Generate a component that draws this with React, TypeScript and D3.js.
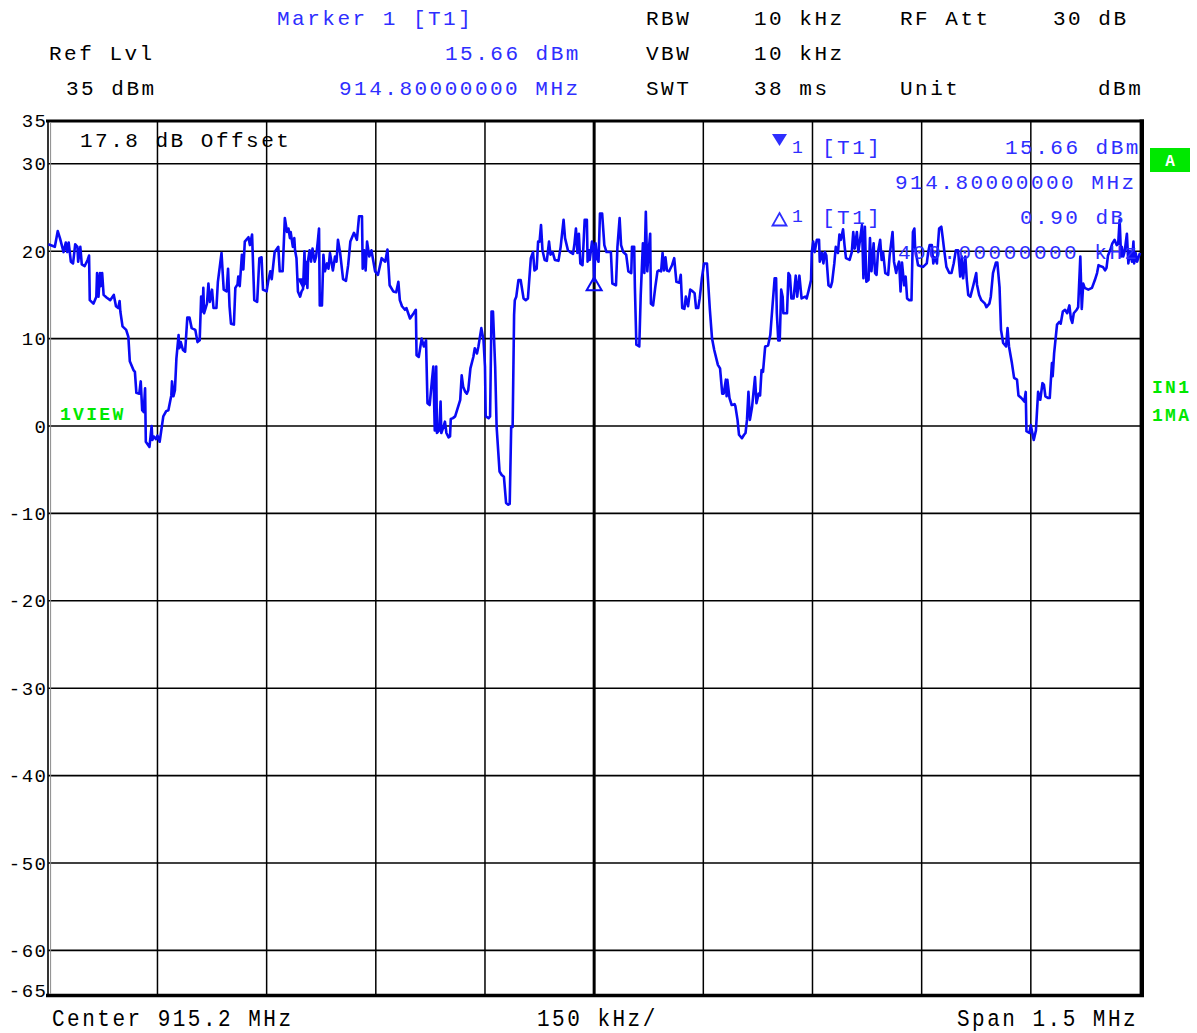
import React from "react";
import * as d3 from "d3";

// ---------- data ----------
const startMHz = 914.45;
const spanKHz = 1500;
const divKHz = 150;
const refLevel = 35;
const bottomLevel = -65;
const levelTicks = [35, 30, 20, 10, 0, -10, -20, -30, -40, -50, -60, -65];
const gridLevels = [30, 20, 10, 0, -10, -20, -30, -40, -50, -60];
const gridOffsetsKHz = [150, 300, 450, 600, 750, 900, 1050, 1200, 1350];

const settingNames = ["RBW", "VBW", "SWT"];
const settingValues = ["10 kHz", "10 kHz", "38 ms"];
const rfAtt = "30 dB";
const unitLabel = "dBm";
const offsetDb = 17.8;

const marker1 = { offsetKHz: 350, level: 15.66 };
const delta1 = { offsetKHz: 750, deltaDb: 0.9, deltaKHz: 400 };

// [offset from start frequency in kHz, level in dBm]
const trace: [number, number][] = [
  [0, 20.8], [9, 20.5], [13, 22.3], [16, 21.5], [21, 19.9], [24, 21.0], [26, 19.9], [28, 21.0],
  [31, 18.8], [34, 18.6], [37, 20.8], [40, 20.5], [41, 18.8], [44, 20.5], [46, 18.5], [50, 18.3],
  [54, 19.0], [56, 19.5], [57, 14.4], [62, 14.0], [66, 14.8], [67, 17.5], [69, 14.8], [71, 17.5],
  [72, 16.0], [74, 17.5], [76, 15.0], [80, 14.7], [85, 14.4], [90, 15.0], [93, 13.7], [96, 13.5],
  [98, 14.3], [99, 13.1], [102, 11.4], [107, 11.0], [110, 10.2], [112, 7.4], [117, 6.4], [119, 6.2],
  [121, 3.8], [125, 3.7], [127, 5.1], [129, 1.8], [131, 1.6], [133, 4.3], [134, -1.8], [139, -2.4],
  [142, 0.0], [143, -1.6], [145, -1.2], [148, -1.5], [150, -1.1], [153, -1.8], [158, 1.1], [162, 1.7],
  [165, 1.8], [169, 3.5], [170, 5.1], [172, 3.4], [174, 4.1], [176, 7.7], [179, 10.4], [180, 8.9],
  [182, 9.6], [185, 8.7], [188, 8.5], [191, 12.4], [194, 12.4], [197, 11.2], [202, 11.0], [205, 9.6],
  [208, 9.8], [210, 14.8], [212, 13.1], [213, 15.8], [214, 12.9], [218, 14.0], [220, 16.3], [222, 14.2],
  [225, 15.6], [227, 13.5], [231, 13.5], [233, 16.5], [238, 19.8], [241, 15.6], [245, 15.4], [247, 18.0],
  [249, 13.7], [251, 11.7], [255, 11.6], [257, 15.8], [260, 16.2], [261, 17.1], [263, 16.0], [266, 19.6],
  [268, 17.9], [270, 21.1], [275, 21.6], [277, 20.7], [280, 21.9], [283, 14.4], [287, 14.2], [290, 19.2],
  [293, 19.3], [295, 15.6], [300, 15.4], [302, 16.5], [305, 17.7], [307, 16.8], [311, 19.9], [316, 20.5],
  [318, 17.7], [322, 17.7], [325, 23.8], [328, 22.2], [330, 22.6], [332, 21.5], [333, 22.2], [336, 20.5],
  [338, 21.5], [339, 20.1], [341, 19.2], [343, 15.4], [346, 14.8], [348, 15.4], [350, 15.66], [352, 20.0],
  [353, 16.3], [354, 18.8], [356, 15.8], [357, 19.0], [359, 20.1], [361, 18.8], [363, 20.3], [366, 18.8],
  [368, 19.4], [370, 20.9], [372, 22.6], [373, 13.8], [376, 13.8], [378, 19.6], [380, 17.7], [383, 18.6],
  [385, 18.0], [387, 19.8], [391, 17.8], [394, 19.4], [396, 18.8], [398, 21.3], [401, 19.8], [405, 16.8],
  [409, 16.6], [412, 18.4], [415, 21.1], [420, 22.1], [424, 21.3], [427, 24.0], [431, 24.0], [432, 18.0],
  [434, 20.1], [436, 17.8], [438, 21.1], [441, 19.4], [444, 20.1], [449, 17.7], [453, 17.3], [458, 19.2],
  [463, 18.8], [466, 20.2], [469, 16.1], [474, 15.4], [478, 15.3], [481, 16.5], [483, 14.4], [486, 13.7],
  [490, 13.3], [492, 13.5], [497, 12.3], [502, 12.9], [505, 13.3], [506, 8.1], [509, 7.9], [513, 10.0],
  [516, 9.1], [519, 9.8], [521, 2.6], [524, 2.4], [527, 5.1], [529, 6.8], [531, -0.5], [533, 6.8],
  [534, -0.8], [537, -0.5], [539, 2.8], [540, -0.8], [543, -0.1], [545, 0.5], [547, -0.8], [550, -1.3],
  [552, -1.2], [553, 0.8], [556, 0.9], [559, 1.1], [566, 3.0], [568, 5.8], [570, 4.5], [573, 3.9],
  [575, 3.7], [577, 4.1], [580, 6.6], [584, 7.9], [586, 8.9], [589, 8.3], [591, 9.1], [595, 11.2],
  [598, 9.8], [600, 6.8], [601, 1.1], [605, 0.9], [607, 1.1], [609, 13.1], [611, 13.1], [614, 6.8],
  [616, -0.1], [620, -5.2], [623, -5.6], [626, -5.8], [629, -8.8], [632, -9.0], [634, -8.9], [636, -0.1],
  [638, -0.1], [640, 12.7], [641, 14.4], [643, 14.8], [646, 16.7], [649, 16.7], [653, 14.6], [656, 14.4],
  [659, 14.6], [663, 19.2], [666, 19.9], [668, 17.8], [671, 18.0], [673, 21.1], [675, 21.1], [677, 23.0],
  [679, 20.1], [682, 19.0], [685, 18.9], [688, 21.1], [690, 19.6], [693, 19.9], [696, 19.0], [701, 18.9],
  [704, 20.5], [708, 23.6], [710, 21.5], [714, 20.1], [717, 19.9], [721, 19.7], [723, 20.9], [725, 22.6],
  [727, 19.8], [729, 22.0], [731, 18.6], [734, 18.4], [737, 23.6], [740, 23.6], [741, 18.8], [743, 20.1],
  [744, 19.0], [747, 21.1], [749, 20.3], [750, 16.56], [752, 20.9], [754, 19.2], [756, 18.8], [758, 24.3],
  [761, 24.3], [764, 20.7], [767, 19.9], [773, 19.9], [775, 16.3], [780, 16.1], [782, 20.5], [785, 23.8],
  [787, 20.7], [790, 19.9], [794, 19.6], [797, 17.7], [801, 17.5], [802, 20.5], [805, 20.5], [806, 15.8],
  [808, 9.3], [812, 9.1], [814, 15.0], [817, 20.9], [819, 17.5], [821, 24.5], [823, 17.7], [825, 20.1],
  [827, 22.0], [828, 14.0], [831, 13.8], [834, 15.9], [837, 17.7], [839, 17.8], [842, 17.7], [844, 19.8],
  [846, 17.8], [848, 19.3], [850, 17.8], [853, 17.7], [857, 18.4], [860, 19.2], [863, 16.5], [867, 16.4],
  [869, 17.3], [871, 13.5], [874, 13.4], [876, 14.8], [879, 13.7], [882, 15.6], [884, 15.5], [888, 15.2],
  [890, 13.5], [893, 13.5], [895, 14.6], [898, 16.9], [901, 18.6], [905, 18.6], [909, 13.3], [912, 10.0],
  [915, 8.7], [920, 7.0], [923, 6.6], [926, 3.7], [928, 3.7], [931, 5.3], [932, 3.4], [933, 5.3],
  [936, 3.2], [939, 2.4], [943, 2.5], [944, 2.3], [947, 0.7], [949, -1.0], [953, -1.4], [956, -1.0],
  [958, -0.8], [960, 0.7], [962, 3.9], [964, 0.7], [967, 2.2], [971, 5.6], [973, 2.6], [976, 3.7],
  [978, 3.5], [980, 6.4], [982, 6.2], [985, 9.1], [989, 9.2], [992, 10.4], [995, 13.7], [998, 16.9],
  [1000, 16.9], [1001, 12.9], [1003, 9.8], [1005, 9.8], [1007, 15.6], [1009, 14.8], [1010, 12.9], [1015, 12.9],
  [1017, 17.5], [1019, 17.2], [1021, 14.6], [1024, 14.6], [1027, 17.2], [1029, 14.8], [1032, 17.2], [1035, 14.6],
  [1040, 14.8], [1042, 14.6], [1045, 15.6], [1048, 16.7], [1049, 19.9], [1051, 21.1], [1053, 19.9], [1056, 21.3],
  [1059, 21.3], [1060, 18.8], [1063, 19.8], [1065, 18.6], [1067, 19.9], [1069, 19.5], [1072, 16.1], [1075, 15.9],
  [1077, 16.5], [1080, 18.6], [1082, 20.5], [1085, 19.8], [1087, 21.9], [1089, 21.3], [1092, 22.5], [1094, 20.7],
  [1096, 19.2], [1101, 19.0], [1104, 19.9], [1106, 22.2], [1108, 20.3], [1111, 22.2], [1113, 19.9], [1115, 21.1],
  [1118, 23.0], [1120, 16.9], [1122, 22.8], [1124, 16.5], [1127, 16.7], [1129, 21.5], [1131, 17.7], [1134, 20.9],
  [1136, 17.5], [1138, 17.3], [1140, 19.9], [1143, 21.3], [1145, 19.0], [1147, 19.9], [1150, 17.5], [1152, 17.4],
  [1154, 17.3], [1156, 19.5], [1160, 22.2], [1162, 18.8], [1165, 17.5], [1166, 18.0], [1169, 18.8], [1171, 15.4],
  [1173, 18.7], [1176, 16.1], [1178, 17.1], [1180, 14.6], [1183, 14.4], [1186, 14.4], [1188, 22.2], [1190, 22.6],
  [1191, 20.5], [1193, 19.4], [1195, 18.4], [1198, 18.3], [1202, 18.2], [1207, 18.6], [1209, 19.9], [1211, 20.7],
  [1214, 20.7], [1216, 18.6], [1218, 19.3], [1221, 18.6], [1222, 20.3], [1224, 22.6], [1227, 22.8], [1229, 21.5],
  [1231, 20.1], [1234, 18.2], [1238, 17.5], [1241, 17.5], [1244, 18.6], [1247, 20.1], [1250, 20.1], [1253, 17.1],
  [1255, 19.4], [1257, 16.9], [1260, 19.4], [1262, 16.7], [1264, 15.0], [1267, 14.8], [1271, 16.1], [1275, 17.5],
  [1276, 16.2], [1279, 15.0], [1282, 14.4], [1287, 14.0], [1289, 13.6], [1293, 14.0], [1295, 14.8], [1298, 17.5],
  [1302, 18.7], [1304, 18.7], [1307, 15.9], [1309, 11.0], [1312, 9.5], [1316, 9.1], [1318, 11.2], [1320, 9.1],
  [1324, 7.2], [1327, 5.5], [1331, 5.3], [1333, 3.5], [1337, 3.2], [1341, 2.8], [1343, 3.9], [1344, -0.6],
  [1348, -0.8], [1350, 0.1], [1353, -1.2], [1354, -1.6], [1357, -0.5], [1360, 3.9], [1363, 3.0], [1366, 4.9],
  [1368, 4.7], [1370, 3.4], [1374, 3.2], [1376, 3.2], [1379, 7.2], [1380, 5.7], [1382, 8.3], [1386, 11.6],
  [1389, 11.9], [1391, 11.7], [1394, 13.1], [1397, 13.3], [1400, 12.9], [1403, 13.8], [1405, 12.3], [1407, 11.8],
  [1409, 12.9], [1413, 13.3], [1415, 13.6], [1418, 19.4], [1420, 13.4], [1422, 16.3], [1424, 15.8], [1429, 15.6],
  [1434, 15.8], [1438, 16.7], [1441, 17.5], [1443, 18.4], [1445, 18.3], [1449, 18.2], [1452, 17.8], [1454, 18.1],
  [1456, 19.5], [1459, 20.1], [1462, 20.9], [1465, 21.3], [1468, 20.7], [1470, 20.8], [1472, 23.6], [1474, 19.4],
  [1475, 20.5], [1477, 19.4], [1479, 20.0], [1482, 22.0], [1484, 18.6], [1486, 20.0], [1489, 18.8], [1491, 21.1],
  [1492, 18.6], [1494, 19.8], [1496, 18.8], [1500, 19.8],
];

// ---------- styling ----------
const MONO = '"Liberation Mono", "Courier New", monospace';
const BLUE_TEXT = "#2e2eff";
const TRACE = "#0a0af5";
const GREEN = "#00e800";

const X0 = 48.3;
const X1 = 1140;
const Y_TOP = 120.1;
const Y_BOT = 994.1;

type TxtProps = {
  x: number;
  y: number;
  children: React.ReactNode;
  fill?: string;
  size?: number;
  ls?: number;
  anchor?: "start" | "middle" | "end";
  weight?: string | number;
};

function Txt({ x, y, children, fill = "#000", size = 21, ls = 2.5, anchor = "start", weight = "normal" }: TxtProps) {
  return (
    <text
      x={x}
      y={y}
      fill={fill}
      fontSize={size}
      fontFamily={MONO}
      letterSpacing={ls}
      textAnchor={anchor}
      fontWeight={weight}
    >
      {children}
    </text>
  );
}

export default function App() {
  const x = d3.scaleLinear().domain([0, spanKHz]).range([X0, X1]);
  const y = d3.scaleLinear().domain([bottomLevel, refLevel]).range([Y_BOT, Y_TOP]);
  const line = d3
    .line<[number, number]>()
    .x((d) => x(d[0]))
    .y((d) => y(d[1]));

  const centerMHz = startMHz + spanKHz / 2000;
  const markerMHz = startMHz + marker1.offsetKHz / 1000;

  const mx = x(marker1.offsetKHz);
  const my = y(marker1.level);
  const dx = x(delta1.offsetKHz);
  const dy = y(marker1.level + delta1.deltaDb);

  const centerKHz = spanKHz / 2;

  return (
    <svg
      width={1197}
      height={1033}
      style={{ position: "absolute", left: 0, top: 0, background: "#fff" }}
    >
      <rect x={0} y={0} width={1197} height={1033} fill="#fff" />

      {/* header */}
      <Txt x={277} y={25} fill={BLUE_TEXT}>Marker 1 [T1]</Txt>
      <Txt x={49} y={60}>Ref Lvl</Txt>
      <Txt x={445} y={60} fill={BLUE_TEXT}>{`${marker1.level.toFixed(2)} dBm`}</Txt>
      <Txt x={66} y={95}>{`${refLevel} dBm`}</Txt>
      <Txt x={339} y={95} fill={BLUE_TEXT}>{`${markerMHz.toFixed(8)} MHz`}</Txt>
      {settingNames.map((s, i) => (
        <Txt key={s} x={646} y={25 + i * 35}>{s}</Txt>
      ))}
      {settingValues.map((s, i) => (
        <Txt key={i} x={754} y={25 + i * 35}>{s}</Txt>
      ))}
      <Txt x={900} y={25}>RF Att</Txt>
      <Txt x={1053} y={25}>{rfAtt}</Txt>
      <Txt x={900} y={95}>Unit</Txt>
      <Txt x={1098} y={95}>{unitLabel}</Txt>

      {/* grid */}
      {gridLevels.map((l) => (
        <line key={"h" + l} x1={X0} x2={X1} y1={y(l)} y2={y(l)} stroke="#000" strokeWidth={1.6} />
      ))}
      {gridOffsetsKHz.map((k) => (
        <line
          key={"v" + k}
          x1={x(k)}
          x2={x(k)}
          y1={Y_TOP}
          y2={Y_BOT}
          stroke="#000"
          strokeWidth={k === centerKHz ? 3 : 1.5}
        />
      ))}

      {/* frame */}
      <line x1={46} x2={1144} y1={121} y2={121} stroke="#000" strokeWidth={3} />
      <line x1={46} x2={1144} y1={995.5} y2={995.5} stroke="#000" strokeWidth={3.5} />
      <line x1={48} x2={48} y1={120} y2={997} stroke="#000" strokeWidth={1.6} />
      <line x1={50.6} x2={50.6} y1={122} y2={994} stroke="#8a8a8a" strokeWidth={1} />
      <line x1={1141.8} x2={1141.8} y1={119.5} y2={997} stroke="#000" strokeWidth={4.4} />

      {/* level ticks */}
      {levelTicks.map((l) => (
        <Txt key={"t" + l} x={47.5} y={(l === bottomLevel ? y(l) - 4 : y(l)) + 6.5} size={19} ls={1.5} anchor="end">
          {String(l)}
        </Txt>
      ))}

      {/* offset label */}
      <Txt x={80} y={147}>{`${offsetDb.toFixed(1)} dB Offset`}</Txt>

      {/* trace */}
      <path d={line(trace) ?? ""} fill="none" stroke={TRACE} strokeWidth={2.6} strokeLinejoin="round" />

      {/* marker symbols on trace */}
      <path
        d={`M${mx - 6},${my - 11} L${mx + 6},${my - 11} L${mx},${my} Z`}
        fill={TRACE}
      />
      <path
        d={`M${dx},${dy - 4} L${dx + 7.5},${dy + 9} L${dx - 7.5},${dy + 9} Z`}
        fill="none"
        stroke={TRACE}
        strokeWidth={2}
      />

      {/* marker info in plot */}
      <path d="M772,134 L787,134 L779.5,146 Z" fill={BLUE_TEXT} />
      <Txt x={792} y={153} fill={BLUE_TEXT} size={18}>1</Txt>
      <Txt x={822} y={154} fill={BLUE_TEXT}>[T1]</Txt>
      <Txt x={1005} y={154} fill={BLUE_TEXT}>{`${marker1.level.toFixed(2)} dBm`}</Txt>
      <Txt x={895} y={189} fill={BLUE_TEXT}>{`${markerMHz.toFixed(8)} MHz`}</Txt>
      <path d="M779.5,213 L786.5,225.5 L772.5,225.5 Z" fill="none" stroke={BLUE_TEXT} strokeWidth={1.8} />
      <Txt x={792} y={222} fill={BLUE_TEXT} size={18}>1</Txt>
      <Txt x={822} y={224} fill={BLUE_TEXT}>[T1]</Txt>
      <Txt x={1020} y={224} fill={BLUE_TEXT}>{`${delta1.deltaDb.toFixed(2)} dB`}</Txt>
      <Txt x={898} y={259} fill={BLUE_TEXT}>{`${delta1.deltaKHz.toFixed(8)} kHz`}</Txt>

      {/* side labels */}
      <rect x={1150} y={148} width={40} height={24} fill={GREEN} />
      <Txt x={1170} y={166} fill="#fff" size={16} ls={0} anchor="middle" weight="bold">A</Txt>
      <Txt x={60} y={420} fill={GREEN} size={18} ls={2.3} weight="bold">1VIEW</Txt>
      <Txt x={1152} y={393} fill={GREEN} size={18} ls={2.3} weight="bold">IN1</Txt>
      <Txt x={1152} y={421} fill={GREEN} size={18} ls={2.3} weight="bold">1MA</Txt>

      {/* footer */}
      <g transform="translate(52,1026) scale(1,1.18)">
        <Txt x={0} y={0}>{`Center ${centerMHz.toFixed(1)} MHz`}</Txt>
      </g>
      <g transform="translate(537,1026) scale(1,1.18)">
        <Txt x={0} y={0}>{`${divKHz} kHz/`}</Txt>
      </g>
      <g transform="translate(957,1026) scale(1,1.18)">
        <Txt x={0} y={0}>{`Span ${(spanKHz / 1000).toFixed(1)} MHz`}</Txt>
      </g>
    </svg>
  );
}
